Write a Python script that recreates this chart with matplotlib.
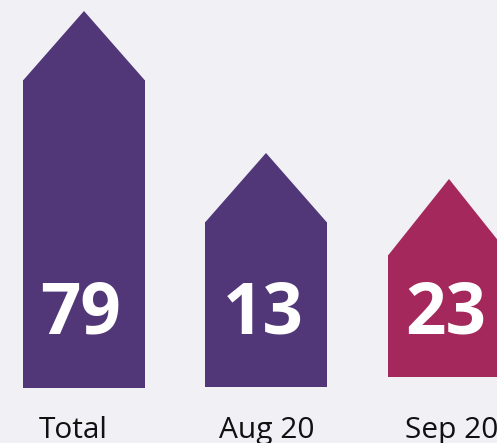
import matplotlib.pyplot as plt
from matplotlib.patches import Polygon

labels = ["Total", "Aug 20", "Sep 20"]
values = [79, 13, 23]
colors = ["#513778", "#513778", "#a4285c"]
# drawn shape levels (pixel space, y down)
bar_tops = [80, 222, 255]
bar_bottoms = [388, 387, 377]
roof_tops = [11, 153, 179]

centers = [84, 266, 449]
label_shift = [-11, 1, 3]
width = 122
bg = "#f0f0f5"

fig = plt.figure(figsize=(4.97, 4.43), dpi=100)
fig.patch.set_facecolor(bg)
ax = fig.add_axes([0, 0, 1, 1])
ax.set_facecolor(bg)
ax.set_xlim(0, 497)
ax.set_ylim(443, 0)
ax.axis("off")

for i in range(len(values)):
    c = centers[i]
    h = bar_bottoms[i] - bar_tops[i]
    ax.bar(c, h, width=width, bottom=bar_tops[i], color=colors[i], linewidth=0)
    roof = Polygon([(c - width / 2, bar_tops[i] + 0.5), (c, roof_tops[i]),
                    (c + width / 2, bar_tops[i] + 0.5)],
                   closed=True, facecolor=colors[i], edgecolor="none")
    ax.add_patch(roof)
    ax.text(c - 3, 333, str(values[i]), color="white", fontsize=51,
            fontweight="bold", family="Open Sans", ha="center", va="baseline")
    ax.text(c + label_shift[i], 438, labels[i], color="#111111", fontsize=21.5,
            family="Open Sans", ha="center", va="baseline")

fig.savefig("out.png", dpi=100, facecolor=bg)
